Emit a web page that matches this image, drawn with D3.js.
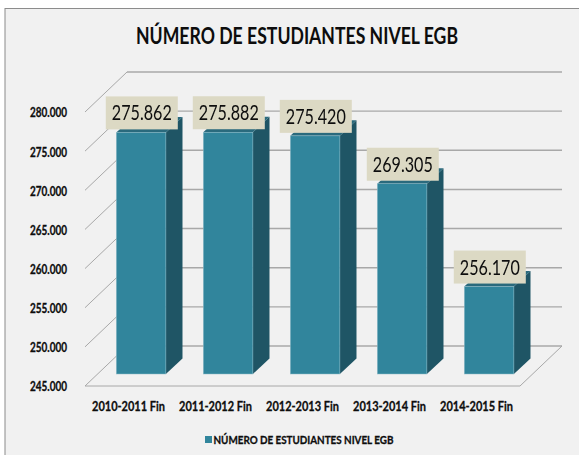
<!DOCTYPE html>
<html><head><meta charset="utf-8">
<script src="https://cdn.jsdelivr.net/npm/d3@7/dist/d3.min.js"></script>
<style>html,body{margin:0;padding:0;background:#fff;overflow:hidden}svg{display:block}
text{font-family:Lato,"Open Sans",sans-serif;fill:#0d0d0d}
.heavy{stroke:#0d0d0d;stroke-width:0.3px}</style></head><body>
<script>
const title = "NÚMERO DE ESTUDIANTES NIVEL EGB";
const categories = ["2010-2011 Fin","2011-2012 Fin","2012-2013 Fin","2013-2014 Fin","2014-2015 Fin"];
const values = [275862,275882,275420,269305,256170];
const valueLabels = ["275.862","275.882","275.420","269.305","256.170"];
const ticks = [245000,250000,255000,260000,265000,270000,275000,280000];
const tickLabels = ["245.000","250.000","255.000","260.000","265.000","270.000","275.000","280.000"];
const W=579,H=455;
const svg=d3.select("body").append("svg").attr("width",W).attr("height",H);
const defs=svg.append("defs");
defs.append("filter").attr("id","soft").attr("x","-5%").attr("y","-10%").attr("width","110%").attr("height","120%")
  .append("feGaussianBlur").attr("stdDeviation",0.25);
svg.append("rect").attr("x",5).attr("y",8.5).attr("width",W).attr("height",H).attr("fill","#f1f1f1").attr("stroke","#8c8c8c").attr("stroke-width",1);

const x=d3.scaleBand().domain(categories).range([85,520]).paddingInner(0.43).paddingOuter(0.215);
const y=d3.scaleLinear().domain([245000,280000]).range([386,112]);
const depth={x:42,y:-40}, barOff={x:12.6,y:-12}, barDepth={x:16.6,y:-15.5};
const grid=svg.append("g").attr("fill","none").attr("stroke","#a8a8a8");
grid.selectAll("line.b").data(ticks).enter().append("line").attr("class","b")
  .attr("x1",85+depth.x).attr("x2",520+depth.x)
  .attr("y1",d=>y(d)+depth.y).attr("y2",d=>y(d)+depth.y).attr("stroke-width",1.4);
grid.selectAll("line.s").data(ticks).enter().append("line").attr("class","s")
  .attr("x1",85).attr("x2",85+depth.x).attr("y1",d=>y(d)).attr("y2",d=>y(d)+depth.y).attr("stroke-width",1);
grid.append("line").attr("x1",85).attr("x2",520).attr("y1",y(245000)).attr("y2",y(245000)).attr("stroke-width",1);
grid.append("line").attr("x1",520).attr("x2",520+depth.x).attr("y1",y(245000)).attr("y2",y(245000)+depth.y).attr("stroke-width",1);

const bars=svg.append("g").selectAll("g").data(categories).enter().append("g");
const bx=(c)=>x(c)+barOff.x, bt=(i)=>y(values[i])+barOff.y, bb=y(245000)+barOff.y, bw=x.bandwidth();
bars.append("path").attr("fill","#1f5565").attr("d",(c,i)=>{const r=bx(c)+bw;return `M${r},${bt(i)}L${r+barDepth.x},${bt(i)+barDepth.y}L${r+barDepth.x},${bb+barDepth.y}L${r},${bb}Z`});
bars.append("path").attr("fill","#2a6a7d").attr("d",(c,i)=>{const l=bx(c),r=l+bw,t=bt(i);return `M${l},${t}L${l+barDepth.x},${t+barDepth.y}L${r+barDepth.x},${t+barDepth.y}L${r},${t}Z`});
bars.append("rect").attr("x",bx).attr("y",(c,i)=>bt(i)).attr("width",bw).attr("height",(c,i)=>bb-bt(i)).attr("fill","#31859c").attr("stroke","#8fbcc8").attr("stroke-width",0.5);

const lab=svg.append("g").selectAll("g").data(categories).enter().append("g");
lab.append("rect").attr("x",c=>bx(c)+bw/2-35.3).attr("y",(c,i)=>bt(i)-36).attr("width",72).attr("height",33).attr("fill","#dcd9c4");
lab.append("text").attr("x",c=>bx(c)+bw/2+0.7).attr("y",(c,i)=>bt(i)-12).attr("text-anchor","middle").attr("font-size",21)
  .attr("textLength",60).attr("lengthAdjust","spacingAndGlyphs").attr("filter","url(#soft)").text((c,i)=>valueLabels[i]);

const yAxis=d3.axisLeft(y).tickValues(ticks).tickFormat((d,i)=>tickLabels[i]).tickSize(0).tickPadding(18);
const yg=svg.append("g").attr("transform","translate(85,0)").call(yAxis);
yg.select(".domain").remove();
yg.selectAll("text").attr("class","heavy").attr("font-size",13).attr("font-weight","700").attr("font-family",null)
  .attr("textLength",37).attr("lengthAdjust","spacingAndGlyphs").attr("dy","0.38em");

const xAxis=d3.axisBottom(x).tickSize(0).tickPadding(0);
const xg=svg.append("g").attr("transform","translate(0,386)").call(xAxis);
xg.select(".domain").remove();
xg.selectAll("text").attr("class","heavy").attr("font-size",13.5).attr("font-weight","700").attr("font-family",null).attr("dy",0).attr("y",25)
  .attr("textLength",73).attr("lengthAdjust","spacingAndGlyphs");

svg.append("text").attr("x",297).attr("y",44).attr("text-anchor","middle").attr("font-size",23).attr("font-weight","700")
  .attr("textLength",322).attr("lengthAdjust","spacingAndGlyphs").text(title);
svg.append("rect").attr("x",205).attr("y",436).attr("width",7).attr("height",7).attr("fill","#31859c");
svg.append("text").attr("class","heavy").attr("x",213.5).attr("y",444).attr("font-size",11.5).attr("font-weight","700")
  .attr("textLength",180).attr("lengthAdjust","spacingAndGlyphs").text(title);
</script></body></html>
